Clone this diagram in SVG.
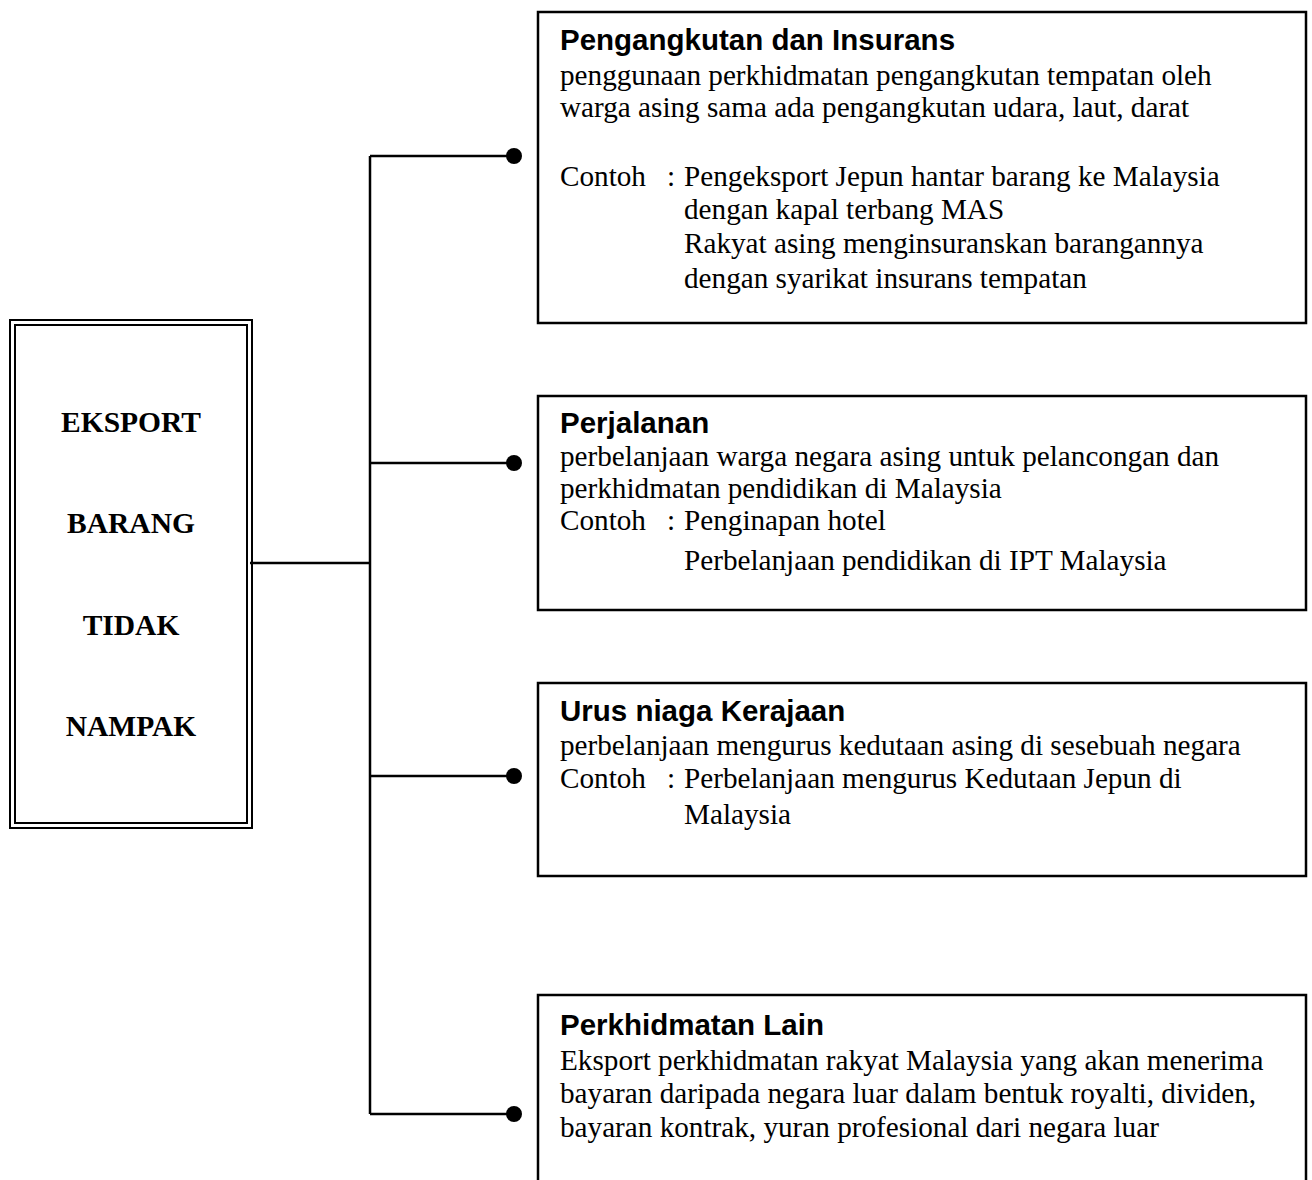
<svg xmlns="http://www.w3.org/2000/svg" width="1312" height="1180" viewBox="0 0 1312 1180">
<style>
.box{fill:#fff;stroke:#000;stroke-width:2.5}
.dbl{fill:none;stroke:#000;stroke-width:2}
.ttl{font-family:"Liberation Sans",Arial,sans-serif;font-weight:bold;font-size:29.5px;fill:#000}
.txt{font-family:"Liberation Serif","Times New Roman",serif;font-size:29.2px;fill:#000}
.big{font-family:"Liberation Serif","Times New Roman",serif;font-weight:bold;font-size:29.5px;fill:#000;text-anchor:middle}
.ln{fill:none;stroke:#000;stroke-width:2.5}
</style>
<rect width="1312" height="1180" fill="#fff"/>
<g id="connectors">
<path class="ln" d="M250 563H370M370 156V1114M370 156H514M370 463H514M370 776H514M370 1114H514"/>
<circle cx="514" cy="156" r="8"/>
<circle cx="514" cy="463" r="8"/>
<circle cx="514" cy="776" r="8"/>
<circle cx="514" cy="1114" r="8"/>
</g>
<g id="main">
<rect class="dbl" x="10" y="320" width="242" height="508"/>
<rect class="dbl" x="15" y="325" width="232" height="498"/>
<text class="big" x="131" y="432">EKSPORT</text>
<text class="big" x="131" y="533">BARANG</text>
<text class="big" x="131" y="635">TIDAK</text>
<text class="big" x="131" y="736">NAMPAK</text>
</g>
<g id="n1">
<rect class="box" x="538" y="12" width="768" height="311"/>
<text class="ttl" x="560" y="50">Pengangkutan dan Insurans</text>
<text class="txt" x="560" y="85">penggunaan perkhidmatan pengangkutan tempatan oleh</text>
<text class="txt" x="560" y="117">warga asing sama ada pengangkutan udara, laut, darat</text>
<text class="txt" x="560" y="186">Contoh</text><text class="txt" x="667" y="186">:</text>
<text class="txt" x="684" y="186">Pengeksport Jepun hantar barang ke Malaysia</text>
<text class="txt" x="684" y="219">dengan kapal terbang MAS</text>
<text class="txt" x="684" y="253">Rakyat asing menginsuranskan barangannya</text>
<text class="txt" x="684" y="288">dengan syarikat insurans tempatan</text>
</g>
<g id="n2">
<rect class="box" x="538" y="396" width="768" height="214"/>
<text class="ttl" x="560" y="433">Perjalanan</text>
<text class="txt" x="560" y="466">perbelanjaan warga negara asing untuk pelancongan dan</text>
<text class="txt" x="560" y="498">perkhidmatan pendidikan di Malaysia</text>
<text class="txt" x="560" y="530">Contoh</text><text class="txt" x="667" y="530">:</text>
<text class="txt" x="684" y="530">Penginapan hotel</text>
<text class="txt" x="684" y="570">Perbelanjaan pendidikan di IPT Malaysia</text>
</g>
<g id="n3">
<rect class="box" x="538" y="683" width="768" height="193"/>
<text class="ttl" x="560" y="721">Urus niaga Kerajaan</text>
<text class="txt" x="560" y="755">perbelanjaan mengurus kedutaan asing di sesebuah negara</text>
<text class="txt" x="560" y="788">Contoh</text><text class="txt" x="667" y="788">:</text>
<text class="txt" x="684" y="788">Perbelanjaan mengurus Kedutaan Jepun di</text>
<text class="txt" x="684" y="824">Malaysia</text>
</g>
<g id="n4">
<rect class="box" x="538" y="995" width="768" height="200"/>
<text class="ttl" x="560" y="1035">Perkhidmatan Lain</text>
<text class="txt" x="560" y="1070">Eksport perkhidmatan rakyat Malaysia yang akan menerima</text>
<text class="txt" x="560" y="1103">bayaran daripada negara luar dalam bentuk royalti, dividen,</text>
<text class="txt" x="560" y="1137">bayaran kontrak, yuran profesional dari negara luar</text>
</g>
</svg>
